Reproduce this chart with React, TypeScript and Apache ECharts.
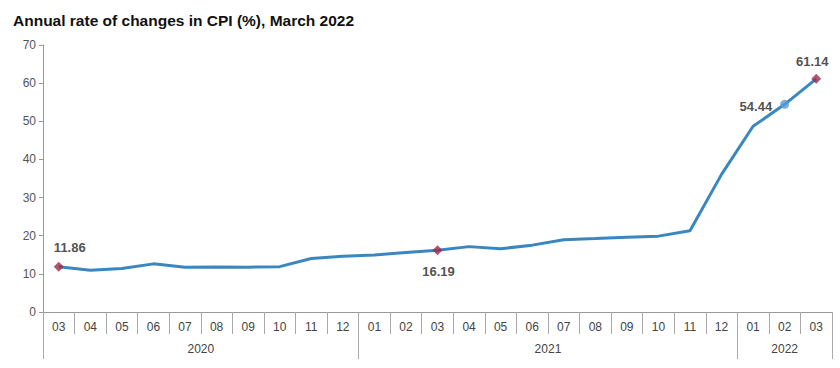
import React, { useEffect, useRef } from "react";
import * as echarts from "echarts";

const months = ["03","04","05","06","07","08","09","10","11","12","01","02","03","04","05","06","07","08","09","10","11","12","01","02","03"];
const cpi = [11.86,10.94,11.39,12.62,11.76,11.77,11.75,11.89,14.03,14.60,14.97,15.61,16.19,17.14,16.59,17.53,18.95,19.25,19.58,19.89,21.31,36.08,48.69,54.44,61.14];
const years = ["2020","2021","2022"];
const yearStarts = [0, 10, 22, 25];
const highlights = [
  { idx: 0, symbol: "diamond", color: "#9e2a4a", pos: "top", offset: [11, 0] },
  { idx: 12, symbol: "diamond", color: "#9e2a4a", pos: "bottom", offset: [1, 0] },
  { idx: 23, symbol: "circle", color: "#5b9bd5", pos: "left", offset: [0, 2] },
  { idx: 24, symbol: "diamond", color: "#9e2a4a", pos: "top", offset: [-4, 2] },
];

export default function App() {
  const ref = useRef<HTMLDivElement>(null);
  useEffect(() => {
    document.body.style.margin = "0";
    const chart = echarts.init(ref.current!, null, { renderer: "svg" });
    const yearCenters = years.map((_, i) => (yearStarts[i] + yearStarts[i + 1]) / 2);
    const font = "Liberation Sans, Arial";
    chart.setOption({
      animation: false,
      backgroundColor: "#ffffff",
      title: {
        text: "Annual rate of changes in CPI (%), March 2022",
        left: 8,
        top: 7,
        textStyle: { fontFamily: font, fontSize: 15.5, fontWeight: "bold", color: "#111" },
      },
      grid: { left: 43, right: 8, top: 45, bottom: 56 },
      xAxis: [
        {
          type: "category",
          data: months,
          boundaryGap: true,
          axisLine: { lineStyle: { color: "#999", width: 1 } },
          axisTick: { show: true, interval: 0, length: 22, lineStyle: { color: "#aaa" } },
          axisLabel: { interval: 0, margin: 9, color: "#444", fontSize: 12, fontFamily: font },
        },
        {
          type: "value",
          position: "bottom",
          min: 0,
          max: 25,
          interval: 0.5,
          axisLine: { show: false },
          splitLine: { show: false },
          axisTick: { show: true, length: 47, customValues: yearStarts, lineStyle: { color: "#aaa" } },
          axisLabel: {
            margin: 31,
            color: "#444",
            fontSize: 12,
            fontFamily: font,
            customValues: yearCenters,
            formatter: (v: number) => {
              const i = yearCenters.findIndex((c) => Math.abs(c - v) < 0.01);
              return i >= 0 ? years[i] : "";
            },
          },
        },
      ],
      yAxis: {
        type: "value",
        min: 0,
        max: 70,
        interval: 10,
        axisLine: { show: true, lineStyle: { color: "#999" } },
        axisTick: { show: true, length: 4, lineStyle: { color: "#999" } },
        splitLine: { show: false },
        axisLabel: { color: "#555", fontSize: 12, margin: 7, fontFamily: font },
      },
      series: [
        {
          type: "line",
          data: cpi,
          xAxisIndex: 0,
          symbol: "none",
          lineStyle: { color: "#3a87c0", width: 3 },
          z: 2,
        },
        {
          type: "scatter",
          xAxisIndex: 0,
          z: 3,
          data: highlights.map((h) => ({
            value: [h.idx, cpi[h.idx]],
            symbol: h.symbol,
            symbolSize: h.symbol === "circle" ? 9 : 10,
            itemStyle: { color: h.color },
            label: {
              show: true,
              position: h.pos,
              offset: h.offset,
              distance: h.pos === "bottom" ? 10 : 8,
              formatter: cpi[h.idx].toFixed(2),
              fontWeight: "bold",
              fontSize: 13,
              color: "#222",
              fontFamily: font,
            },
          })),
        },
      ],
    });
    return () => chart.dispose();
  }, []);
  return <div ref={ref} style={{ width: 840, height: 368 }} />;
}
